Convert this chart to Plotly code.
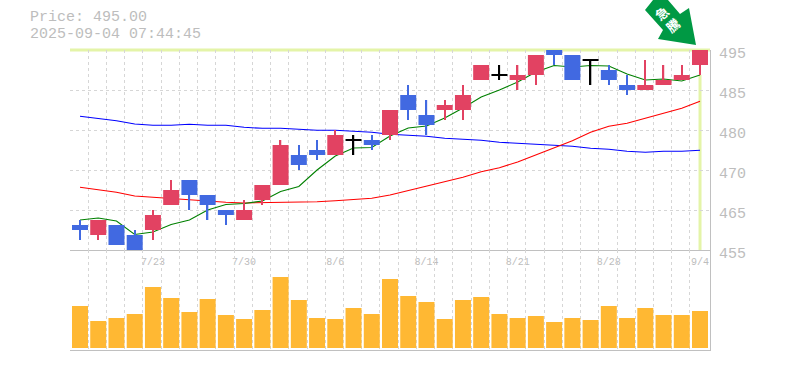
import plotly.graph_objects as go

dates = ["7/16","7/17","7/18","7/22","7/23","7/24","7/25","7/28","7/29","7/30","7/31","8/1","8/4","8/5","8/6",
         "8/7","8/8","8/12","8/13","8/14","8/15","8/18","8/19","8/20","8/21","8/22","8/25","8/26","8/27","8/28",
         "8/29","9/1","9/2","9/3","9/4"]
opens  = [460,458,460,458,459,464,469,466,463,461,465,468,474,475,474,477,477,478,486,482,483,483,489,490,489,490,495,494,493,491,488,487,488,489,492]
highs  = [461,461,460,459,463,469,469,466,463,465,468,477,476,477,479,478,478,483,488,485,485,488,492,492,492,494,495,494,493,492,490,493,492,492,495]
lows   = [457,457,456,455,457,464,463,461,460,461,464,468,471,473,474,474,475,477,481,478,481,481,489,489,487,488,492,489,488,488,486,487,488,489,490]
closes = [459,461,456,455,462,467,466,464,462,463,468,476,472,474,478,477,476,483,483,480,484,486,492,490,490,494,494,489,493,489,487,488,489,490,495]
ma_short = [461.0,461.4,460.8,458.1,458.6,460.1,461.0,463.0,464.1,464.3,464.8,466.7,467.7,471.0,473.8,475.4,475.5,477.8,479.4,479.8,481.4,483.4,485.6,487.0,488.6,490.6,491.9,491.6,491.9,491.8,490.2,489.0,489.2,488.8,490.0]
ma_mid = [467.54,467.0,466.54,465.8,465.54,465.34,464.94,464.8,464.54,464.4,464.46,464.54,464.54,464.66,464.86,465.14,465.34,466.0,466.86,467.8,468.54,469.54,470.66,471.46,472.6,474.0,475.54,476.86,478.54,479.74,480.34,481.34,482.2,483.34,484.74]
ma_long = [481.74,481.26,480.86,480.2,479.94,479.94,480.14,479.94,479.94,479.54,479.34,479.34,479.14,478.94,478.94,478.8,478.54,478.14,477.94,477.74,477.34,477.14,476.94,476.54,476.34,476.14,475.94,475.74,475.34,475.14,474.74,474.54,474.74,474.74,474.94]
volume = [42,27,30,34,61,50,36,49,33,29,38,71,48,30,29,40,34,69,52,46,29,48,51,34,30,32,26,30,28,42,30,40,33,33,37]
date_ticks = ["7/23","7/30","8/6","8/14","8/21","8/28","9/4"]
price_tick_vals = [455,463,471,479,487,495]
price_tick_text = ["455","465","470","480","485","495"]
last_price = "495.00"
stamp = "2025-09-04 07:44:45"

W, H = 785, 370
L, R, T, B = 70, 75, 50, 20
GRID = "#d6d6d6"
AXIS = "#c0c0c0"
LABEL = "#bdbdbd"
MONO = "Liberation Mono, DejaVu Sans Mono, monospace"
UP, DOWN, DOJI = "#e24262", "#4169e1", "#000000"

xs = list(range(len(dates)))
colors = [UP if c > o else DOWN if c < o else DOJI for o, c in zip(opens, closes)]
body_base = [min(o, c) if o != c else o - 0.2 for o, c in zip(opens, closes)]
body_size = [abs(c - o) if o != c else 0.4 for o, c in zip(opens, closes)]
grid_vals = [i - 0.55 for i in xs]
tick_idx = [dates.index(d) for d in date_ticks]

fig = go.Figure()
for vals, col, name in [(ma_long, "#0000ff", "MA75"), (ma_mid, "#ff0000", "MA25"), (ma_short, "#008000", "MA5")]:
    fig.add_trace(go.Scatter(x=xs, y=vals, mode="lines", line=dict(color=col, width=1.1), name=name,
                             xaxis="x", yaxis="y"))
fig.add_trace(go.Bar(x=xs, base=lows, y=[h - l for h, l in zip(highs, lows)], width=0.075,
                     marker=dict(color=colors, line_width=0), xaxis="x", yaxis="y3", name="wick"))
fig.add_trace(go.Bar(x=xs, base=body_base, y=body_size, width=0.877,
                     marker=dict(color=colors, line_width=0), xaxis="x", yaxis="y3", name="body"))
fig.add_trace(go.Bar(x=xs, y=volume, width=0.877, marker=dict(color="#ffb833", line_width=0),
                     xaxis="x2", yaxis="y2", name="volume"))

xgrid = dict(tickmode="array", tickvals=grid_vals, showgrid=True, gridcolor=GRID, griddash="3px,3px",
             gridwidth=1, ticks="")
xrange_ = [-0.548, 34.548]
fig.update_layout(
    width=W, height=H, autosize=False, showlegend=False, barmode="overlay",
    paper_bgcolor="white", plot_bgcolor="white",
    margin=dict(l=L, r=R, t=T, b=B, pad=0, autoexpand=False),
    xaxis=dict(domain=[0, 1], range=xrange_, anchor="y", tickmode="array", tickvals=tick_idx, ticktext=date_ticks,
               showgrid=False, zeroline=False, ticks="outside", ticklen=2, tickcolor="rgba(0,0,0,0)", showline=True,
               linecolor=AXIS, linewidth=1, automargin=False,
               tickfont=dict(family=MONO, size=10, color=LABEL), minor=xgrid),
    xaxis2=dict(domain=[0, 1], range=xrange_, anchor="y2", matches="x", showticklabels=False, showgrid=False,
                zeroline=False, ticks="", showline=True, linecolor=AXIS, linewidth=1, minor=xgrid),
    yaxis=dict(domain=[1/3, 1], range=[455, 495], side="right", anchor="x", tickmode="array",
               tickvals=price_tick_vals, ticktext=price_tick_text, showgrid=True, gridcolor=GRID,
               griddash="3px,3px", gridwidth=1, zeroline=False, ticks="", showline=True, linecolor=AXIS, linewidth=1,
               automargin=False, tickfont=dict(family=MONO, size=15, color=LABEL), ticklabelshift=3, ticklabelstandoff=5),
    yaxis3=dict(overlaying="y", range=[455, 495], side="right", anchor="x", visible=False),
    yaxis2=dict(domain=[0, 1/3], range=[-2, 98], side="right", anchor="x2", showgrid=False, zeroline=False,
                showticklabels=False, ticks="", showline=True, linecolor=AXIS, linewidth=1),
)

def px(x):
    return (x - L) / (W - L - R)
def py(y):
    return 1 - (y - T) / (H - T - B)

arrow_pts = [(653, 0), (645, 10), (663, 30), (658, 39), (696, 45), (689, 8), (680, 14), (668, 0)]
path = "M " + " L ".join(f"{px(a):.5f} {py(b):.5f}" for a, b in arrow_pts) + " Z"
fig.update_layout(shapes=[
    dict(type="line", xref="paper", yref="y domain", x0=0, x1=1, y0=1, y1=1,
         line=dict(color="#e4f4a8", width=3), layer="below"),
    dict(type="line", xref="x", yref="y", x0=xs[-1], x1=xs[-1], y0=455, y1=lows[-1],
         line=dict(color="#e4f4a8", width=3), layer="below"),
    dict(type="path", xref="paper", yref="paper", path=path, fillcolor="#009944", line=dict(width=0), layer="above"),
])
fig.update_layout(annotations=[
    dict(xref="paper", yref="paper", x=px(28), y=py(18), xanchor="left", yanchor="middle", showarrow=False,
         text=f"Price: {last_price}", font=dict(family=MONO, size=15, color=LABEL)),
    dict(xref="paper", yref="paper", x=px(28), y=py(34), xanchor="left", yanchor="middle", showarrow=False,
         text=stamp, font=dict(family=MONO, size=15, color=LABEL)),
    dict(xref="paper", yref="paper", x=px(661), y=py(13), xanchor="center", yanchor="middle", showarrow=False,
         text="<b>急</b>", textangle=-40, font=dict(family="Noto Sans CJK JP", size=13, color="white")),
    dict(xref="paper", yref="paper", x=px(672), y=py(25), xanchor="center", yanchor="middle", showarrow=False,
         text="<b>騰</b>", textangle=-40, font=dict(family="Noto Sans CJK JP", size=13, color="white")),
])

fig.write_html("out.html", config={"displayModeBar": False},
               post_script="document.body.style.margin='0';")
